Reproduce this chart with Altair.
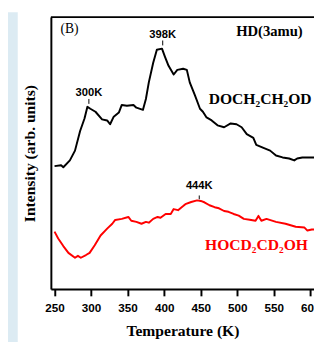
import altair as alt
import pandas as pd

# DOCH2CH2OD (black) trace
doch_T = [250, 259, 262, 271, 278, 285, 291, 295, 299, 306, 315, 322, 326, 331, 338, 342, 349, 358, 362, 371,
          375, 379, 385, 390, 397, 401, 406, 413, 418, 426, 431, 435, 442, 449, 453, 458, 465, 473, 482, 491,
          499, 506, 513, 522, 526, 535, 545, 553, 562, 571, 578, 582, 589, 602, 606]
doch_I = [4.52, 4.55, 4.48, 4.73, 5.09, 5.81, 6.27, 6.70, 6.63, 6.52, 6.24, 6.20, 6.06, 6.34, 6.49, 6.77, 6.74, 6.77, 6.67, 6.59,
          6.99, 7.60, 8.32, 8.80, 8.84, 8.55, 8.21, 7.89, 8.06, 8.10, 8.06, 7.60, 7.13, 6.63, 6.52, 6.31, 6.20, 6.02, 5.95, 6.09,
          6.06, 5.95, 5.70, 5.56, 5.30, 5.20, 5.09, 4.91, 4.84, 4.80, 4.73, 4.80, 4.84, 4.84, 4.84]

# HOCD2CD2OH (red) trace
hocd_T = [250, 255, 262, 269, 278, 282, 286, 293, 298, 305, 313, 322, 329, 333, 342, 351, 355, 362, 369, 375,
          379, 385, 391, 395, 402, 409, 413, 419, 426, 429, 437, 445, 450, 455, 462, 469, 475, 482, 488, 495,
          502, 509, 517, 525, 529, 533, 540, 553, 566, 580, 592, 596, 602, 606]
hocd_I = [2.11, 1.86, 1.58, 1.33, 1.15, 1.22, 1.15, 1.25, 1.33, 1.61, 1.97, 2.22, 2.40, 2.54, 2.58, 2.65, 2.51, 2.47, 2.40, 2.47,
          2.44, 2.58, 2.65, 2.62, 2.76, 2.76, 2.94, 2.90, 3.05, 3.12, 3.20, 3.26, 3.24, 3.19, 3.08, 3.01, 2.97, 2.87, 2.84, 2.76,
          2.70, 2.58, 2.55, 2.51, 2.69, 2.51, 2.58, 2.47, 2.40, 2.29, 2.26, 2.15, 2.19, 2.19]

# peak annotations
peak_text = ["300K", "398K", "444K"]
peak_T = [297, 398, 448]
peak_I = [7.10, 9.25, 3.69]
peak_tick_lo = [6.81, 8.96, 3.30]
peak_tick_hi = [6.99, 9.14, 3.44]

x_ticks = [250, 300, 350, 400, 450, 500, 550, 600]
X_DOMAIN = [245, 605]
Y_DOMAIN = [0, 10]

W, H = 270, 279

black = pd.DataFrame({"T": doch_T, "I": doch_I})
red = pd.DataFrame({"T": hocd_T, "I": hocd_I})
peaks = pd.DataFrame({"T": peak_T, "I": peak_I, "text": peak_text,
                      "lo": peak_tick_lo, "hi": peak_tick_hi})

xs = alt.Scale(domain=X_DOMAIN, nice=False, zero=False)
ys = alt.Scale(domain=Y_DOMAIN, nice=False, zero=False)

xaxis = alt.Axis(values=x_ticks, grid=False, domainColor="black", domainWidth=2,
                 tickColor="black", tickWidth=2, tickSize=7,
                 labelFont="Liberation Sans", labelFontWeight="bold", labelFontSize=12,
                 labelColor="black", labelPadding=7, labelOverlap=False, labelFlush=False,
                 labelBound=False,
                 title="Temperature (K)", titleFont="Liberation Serif", titleFontWeight="bold",
                 titleFontSize=16, titleColor="black", titlePadding=10)
yaxis = alt.Axis(grid=False, ticks=False, labels=False, domainColor="black", domainWidth=2,
                 title="Intensity (arb. units)", titleFont="Liberation Serif", titleFontWeight="bold",
                 titleFontSize=16, titleColor="black", titlePadding=14)


def X(field="T"):
    return alt.X(f"{field}:Q", scale=xs, axis=xaxis)


def Y(field="I"):
    return alt.Y(f"{field}:Q", scale=ys, axis=yaxis)


strip = alt.Chart(pd.DataFrame({"a": [0]})).mark_rect(color="#dcebf3").encode(
    x=alt.value(-44), x2=alt.value(-34), y=alt.value(-5), y2=alt.value(H + 60))

top = alt.Chart(pd.DataFrame({"a": [0]})).mark_rule(color="black", strokeWidth=2).encode(
    x=alt.value(0), x2=alt.value(W), y=alt.value(0))

line_b = alt.Chart(black).mark_line(color="black", strokeWidth=2, clip=True, strokeJoin="round").encode(
    x=X(), y=Y())
line_r = alt.Chart(red).mark_line(color="#ff0000", strokeWidth=2, clip=True, strokeJoin="round").encode(
    x=X(), y=Y())

ptxt = alt.Chart(peaks).mark_text(font="Liberation Sans", fontWeight="bold", fontSize=11.5,
                                   color="black", baseline="alphabetic", align="center").encode(
    x=X(), y=Y(), text="text:N")
ptick = alt.Chart(peaks).mark_rule(color="black", strokeWidth=1).encode(
    x=X(), y=Y("lo"), y2="hi:Q")

labels = pd.DataFrame({
    "T": [258, 544, 461, 456],
    "I": [9.40, 9.32, 6.81, 1.43],
    "text": ["(B)", "HD(3amu)", "DOCH₂CH₂OD", "HOCD₂CD₂OH"],
})
lab_b = alt.Chart(labels.iloc[[0]]).mark_text(font="Liberation Serif", fontSize=14, color="black",
                                              align="left", baseline="alphabetic").encode(
    x=X(), y=Y(), text="text:N")
lab_hd = alt.Chart(labels.iloc[[1]]).mark_text(font="Liberation Serif", fontWeight="bold", fontSize=15,
                                               color="black", align="center", baseline="alphabetic").encode(
    x=X(), y=Y(), text="text:N")
lab_d = alt.Chart(labels.iloc[[2]]).mark_text(font="Liberation Serif", fontWeight="bold", fontSize=16,
                                              color="black", align="left", baseline="alphabetic").encode(
    x=X(), y=Y(), text="text:N")
lab_h = alt.Chart(labels.iloc[[3]]).mark_text(font="Liberation Serif", fontWeight="bold", fontSize=16,
                                              color="#ff0000", align="left", baseline="alphabetic").encode(
    x=X(), y=Y(), text="text:N")

chart = alt.layer(line_b, strip, top, line_r, ptick, ptxt, lab_b, lab_hd, lab_d, lab_h).properties(
    width=W, height=H,
    autosize=alt.AutoSizeParams(type="none"),
    padding={"left": 44, "top": 5, "right": 0, "bottom": 50},
).configure_view(stroke=None).configure_axis(labelOverlap=False).configure(background="white")

chart.save("out.html", embed_options={"renderer": "svg", "actions": False})
